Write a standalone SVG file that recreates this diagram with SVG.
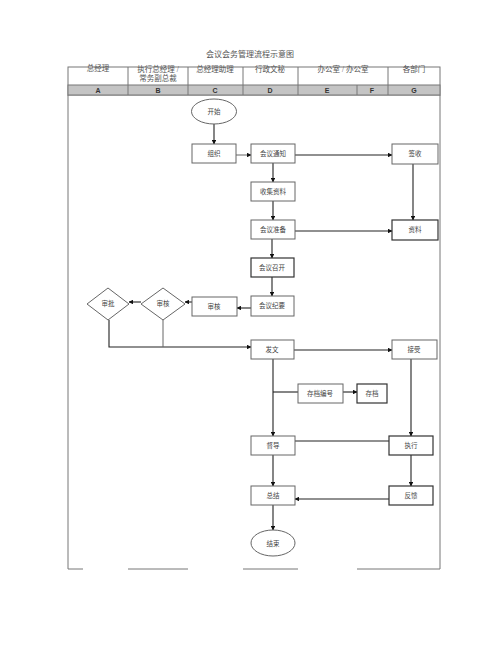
<svg xmlns="http://www.w3.org/2000/svg" width="500" height="647" viewBox="0 0 500 647">
<style>
text{font-family:"Liberation Serif","Noto Sans CJK SC",serif;fill:#444;}
.t{font-size:6.5px;text-anchor:middle;}
.h{font-size:7.5px;text-anchor:middle;fill:#555;}
.l{font-family:"Liberation Sans",sans-serif;font-size:7px;font-weight:bold;text-anchor:middle;fill:#333;}
.box{fill:#fff;stroke:#666;stroke-width:1;}
.bx2{fill:#fff;stroke:#333;stroke-width:1.2;}
.frame{fill:none;stroke:#777;stroke-width:1;}
.c{fill:none;stroke:#222;stroke-width:1.1;}
.c2{fill:none;stroke:#666;stroke-width:1;}
</style>
<defs>
<marker id="ah" viewBox="0 0 10 10" refX="9" refY="5" markerWidth="4.5" markerHeight="4.5" orient="auto" markerUnits="userSpaceOnUse">
<path d="M0,0 L10,5 L0,10 z" fill="#111"/>
</marker>
</defs>
<rect width="500" height="647" fill="#fff"/>
<text x="250" y="57" class="h" style="font-size:8px">会议会务管理流程示意图</text>

<g id="header">
<rect x="68" y="67" width="372" height="28" class="frame"/>
<rect x="68" y="85" width="372" height="10" fill="#c4c4c4" stroke="#777" stroke-width="1"/>
<line x1="128" y1="67" x2="128" y2="95" class="frame"/>
<line x1="188" y1="67" x2="188" y2="95" class="frame"/>
<line x1="243" y1="67" x2="243" y2="95" class="frame"/>
<line x1="298" y1="67" x2="298" y2="95" class="frame"/>
<line x1="357" y1="85" x2="357" y2="95" class="frame"/>
<line x1="388" y1="67" x2="388" y2="95" class="frame"/>
<text x="98" y="71" class="h">总经理</text>
<text x="158" y="72" class="h">执行总经理 /</text>
<text x="158" y="81" class="h">常务副总裁</text>
<text x="215" y="72" class="h">总经理助理</text>
<text x="270" y="72" class="h">行政文秘</text>
<text x="343" y="72" class="h">办公室 / 办公室</text>
<text x="414" y="72" class="h">各部门</text>
<text x="98" y="93" class="l">A</text>
<text x="158" y="93" class="l">B</text>
<text x="215" y="93" class="l">C</text>
<text x="270" y="93" class="l">D</text>
<text x="327" y="93" class="l">E</text>
<text x="372" y="93" class="l">F</text>
<text x="414" y="93" class="l">G</text>
</g>

<g id="frame">
<line x1="68" y1="95" x2="68" y2="569" class="frame"/>
<line x1="440" y1="95" x2="440" y2="569" class="frame"/>
<line x1="68" y1="569" x2="83" y2="569" class="frame"/>
<line x1="128" y1="569" x2="188" y2="569" class="frame"/>
<line x1="243" y1="569" x2="298" y2="569" class="frame"/>
<line x1="357" y1="569" x2="440" y2="569" class="frame"/>
</g>

<g id="connectors">
<line x1="214" y1="124" x2="214" y2="144" class="c" marker-end="url(#ah)"/>
<line x1="236" y1="155" x2="251" y2="155" class="c2" marker-end="url(#ah)"/>
<line x1="295" y1="155" x2="392" y2="155" class="c" marker-end="url(#ah)"/>
<line x1="413" y1="164" x2="413" y2="220" class="c" marker-end="url(#ah)"/>
<line x1="273" y1="163" x2="273" y2="182" class="c" marker-end="url(#ah)"/>
<line x1="273" y1="201" x2="273" y2="220" class="c" marker-end="url(#ah)"/>
<line x1="295" y1="231" x2="392" y2="231" class="c" marker-end="url(#ah)"/>
<line x1="272" y1="239" x2="272" y2="258" class="c" marker-end="url(#ah)"/>
<line x1="272" y1="277" x2="272" y2="296" class="c" marker-end="url(#ah)"/>
<line x1="251" y1="308" x2="237" y2="308" class="c" marker-end="url(#ah)"/>
<line x1="192" y1="302" x2="185" y2="302" class="c" marker-end="url(#ah)"/>
<line x1="141" y1="302" x2="129" y2="302" class="c" marker-end="url(#ah)"/>
<polyline points="109,320 109,347 251,347" class="c" marker-end="url(#ah)"/>
<line x1="163" y1="320" x2="163" y2="347" class="c2"/>
<line x1="294" y1="350" x2="392" y2="350" class="c" marker-end="url(#ah)"/>
<line x1="273" y1="359" x2="273" y2="436" class="c" marker-end="url(#ah)"/>
<line x1="273" y1="392" x2="302" y2="392" class="c" marker-end="url(#ah)"/>
<line x1="343" y1="392" x2="357" y2="392" class="c" marker-end="url(#ah)"/>
<line x1="411" y1="359" x2="411" y2="436" class="c" marker-end="url(#ah)"/>
<line x1="295" y1="441" x2="397" y2="441" class="c" marker-end="url(#ah)"/>
<line x1="273" y1="455" x2="273" y2="486" class="c" marker-end="url(#ah)"/>
<line x1="411" y1="455" x2="411" y2="486" class="c" marker-end="url(#ah)"/>
<line x1="397" y1="499" x2="295" y2="499" class="c" marker-end="url(#ah)"/>
<line x1="273" y1="505" x2="273" y2="530" class="c" marker-end="url(#ah)"/>
</g>

<g id="start"><ellipse cx="214" cy="111.5" rx="22.5" ry="12.5" class="box"/><text x="214" y="114" class="t">开始</text></g>
<g id="zuzhi"><rect x="192" y="144" width="44" height="19" class="box"/><text x="214" y="156" class="t">组织</text></g>
<g id="tongzhi"><rect x="251" y="144" width="44" height="19" class="box"/><text x="273" y="156" class="t">会议通知</text></g>
<g id="qianshou"><rect x="392" y="144" width="46" height="20" class="box"/><text x="415" y="156" class="t">签收</text></g>
<g id="shouji"><rect x="251" y="182" width="44" height="19" class="box"/><text x="273" y="194" class="t">收集资料</text></g>
<g id="zhunbei"><rect x="251" y="220" width="44" height="19" class="box"/><text x="273" y="232" class="t">会议准备</text></g>
<g id="ziliao"><rect x="392" y="220" width="46" height="20" class="bx2"/><text x="415" y="232" class="t">资料</text></g>
<g id="zhaokai"><rect x="251" y="258" width="43" height="19" class="bx2"/><text x="272" y="270" class="t">会议召开</text></g>
<g id="jiyao"><rect x="251" y="296" width="43" height="20" class="box"/><text x="272" y="308" class="t">会议纪要</text></g>
<g id="shenhe-box"><rect x="192" y="297" width="45" height="19" class="box"/><text x="214" y="309" class="t">审核</text></g>
<g id="shenhe-dia"><polygon points="163,288 185,304 163,320 141,304" class="box"/><text x="163" y="306" class="t">审核</text></g>
<g id="shenpi-dia"><polygon points="108,288 129,304 108,320 87,304" class="box"/><text x="108" y="306" class="t">审批</text></g>
<g id="fawen"><rect x="251" y="340" width="43" height="19" class="box"/><text x="272" y="352" class="t">发文</text></g>
<g id="jieshou"><rect x="392" y="340" width="45" height="19" class="box"/><text x="414" y="352" class="t">接受</text></g>
<g id="bianhao"><rect x="298" y="384" width="45" height="19" class="box"/><text x="320" y="396" class="t">存档编号</text></g>
<g id="cundang"><rect x="357" y="384" width="30" height="19" class="bx2"/><text x="372" y="396" class="t">存档</text></g>
<g id="dudao"><rect x="251" y="436" width="44" height="19" class="box"/><text x="273" y="448" class="t">督导</text></g>
<g id="zhixing"><rect x="389" y="436" width="44" height="19" class="bx2"/><text x="411" y="448" class="t">执行</text></g>
<g id="zongjie"><rect x="251" y="486" width="44" height="19" class="box"/><text x="273" y="498" class="t">总结</text></g>
<g id="fankui"><rect x="389" y="486" width="44" height="19" class="bx2"/><text x="411" y="498" class="t">反馈</text></g>
<g id="end"><ellipse cx="273" cy="543" rx="22" ry="13" class="box"/><text x="273" y="545.5" class="t">结束</text></g>
</svg>
